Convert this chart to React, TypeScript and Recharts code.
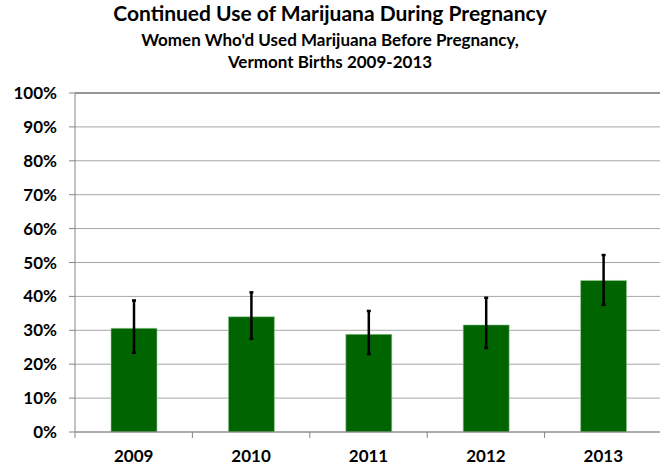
import React from 'react';
import { BarChart, Bar, XAxis, YAxis, CartesianGrid, ErrorBar, ReferenceLine } from 'recharts';

const years = ['2009', '2010', '2011', '2012', '2013'];
const pctContinued = [30.6, 34.0, 28.8, 31.6, 44.7];
const ciLow = [23.4, 27.5, 23.0, 24.8, 37.5];
const ciHigh = [38.8, 41.2, 35.7, 39.6, 52.2];
const yTicks = [0, 10, 20, 30, 40, 50, 60, 70, 80, 90, 100];

const font = 'Lato, "Open Sans", sans-serif';
const axisGrey = '#868686';
const chartW = 662;
const plotLeft = 75;

const chartData = years.map((year, i) => ({
    year,
    value: pctContinued[i],
    // error bar wants [minus, plus] deltas
    ci: [pctContinued[i] - ciLow[i], ciHigh[i] - pctContinued[i]],
}));

// category label plus the little tick marks between categories (excel style)
const YearTick = (props: any) => {
    const { x, y, payload, index } = props;
    const half = payload?.offset ?? (chartW - plotLeft) / years.length / 2;
    return (
        <g>
            <line x1={x - half} y1={y} x2={x - half} y2={y + 6} stroke={axisGrey} />
            {index === years.length - 1 && <line x1={x + half} y1={y} x2={x + half} y2={y + 6} stroke={axisGrey} />}
            <text x={x} y={y + 18} dy="0.71em" textAnchor="middle" fill="#000" fontSize={17} fontWeight={700} fontFamily={font}>
                {payload.value}
            </text>
        </g>
    );
};

const App: React.FC = () => {
    return (
        <div style={{ position: 'absolute', left: 0, top: 0, width: 660, height: 467, overflow: 'hidden', background: '#fff', fontFamily: font }}>
            <div style={{ position: 'absolute', top: 0, left: 0, width: 660, textAlign: 'center', fontSize: 21, lineHeight: '25px', fontWeight: 700, color: '#000' }}>
                Continued Use of Marijuana During Pregnancy
            </div>
            <div style={{ position: 'absolute', top: 29, left: 0, width: 660, textAlign: 'center', fontSize: 17, lineHeight: '21.6px', fontWeight: 700, color: '#000' }}>
                Women Who'd Used Marijuana Before Pregnancy,
                <br />
                Vermont Births 2009-2013
            </div>
            <BarChart width={chartW} height={467} data={chartData} margin={{ top: 93, right: 0, left: 0, bottom: 0 }}>
                <CartesianGrid vertical={false} stroke="#a6a6a6" />
                <XAxis
                    dataKey="year"
                    height={35}
                    interval={0}
                    axisLine={{ stroke: axisGrey }}
                    tickLine={false}
                    tickSize={0}
                    tickMargin={0}
                    tick={<YearTick />}
                />
                <YAxis
                    width={plotLeft}
                    domain={[0, 100]}
                    ticks={yTicks}
                    interval={0}
                    tickFormatter={(v) => `${v}%`}
                    axisLine={{ stroke: axisGrey }}
                    tickLine={{ stroke: axisGrey }}
                    tickSize={6}
                    tickMargin={12}
                    tick={{ fill: '#000', fontSize: 17, fontWeight: 700, fontFamily: font }}
                />
                <ReferenceLine y={100} stroke="#5a5a5a" />
                <Bar dataKey="value" fill="#006400" stroke="#9fcf9f" strokeWidth={0.6} barSize={46} isAnimationActive={false}>
                    <ErrorBar dataKey="ci" width={2} stroke="#000" strokeWidth={2.5} isAnimationActive={false} />
                </Bar>
            </BarChart>
        </div>
    );
};

export default App;
